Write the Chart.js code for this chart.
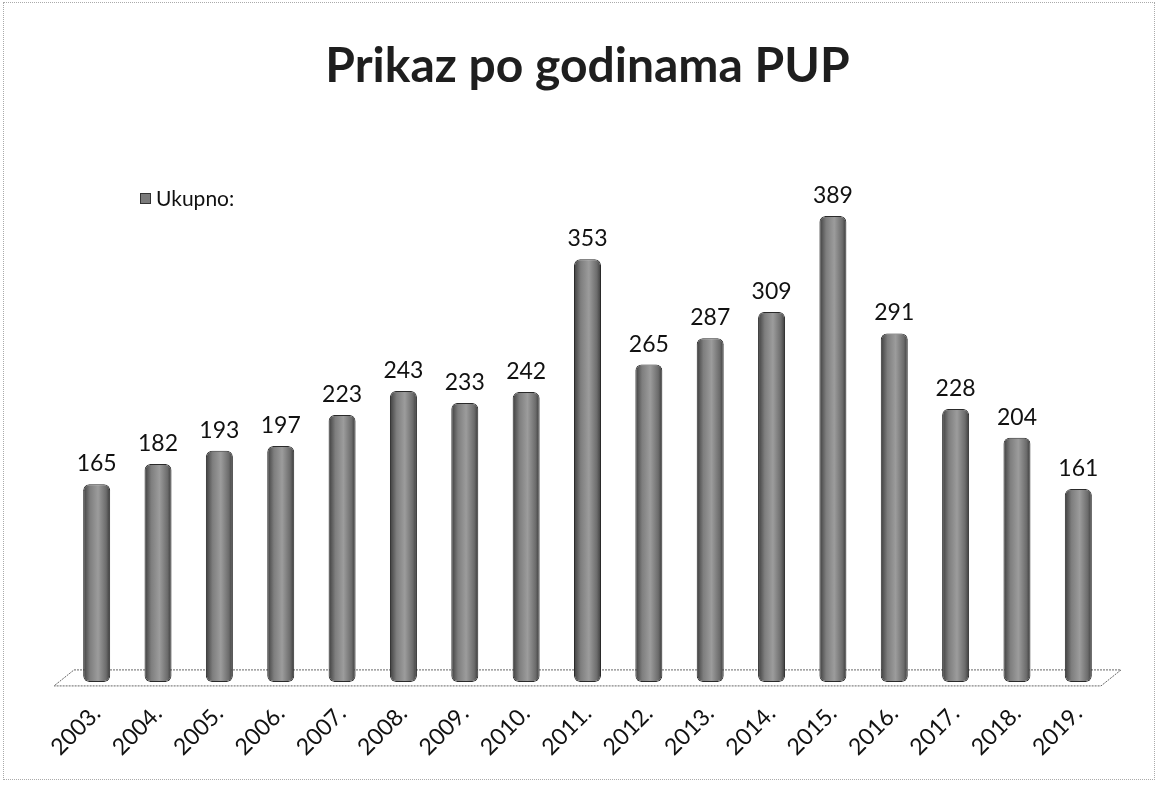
<!DOCTYPE html>
<html>
<head>
<meta charset="utf-8">
<script src="https://cdn.jsdelivr.net/npm/chart.js@4.4.1/dist/chart.umd.min.js"></script>
<style>
  html, body { margin: 0; padding: 0; background: #fff; }
  #wrap { position: relative; width: 1158px; height: 785px; }
  #frame { position: absolute; left: 3px; top: 2px; width: 1150px; height: 776px; border: 1px dotted #aaa; pointer-events: none; }
</style>
</head>
<body>
<div id="wrap">
  <canvas id="grafico" width="1158" height="785"></canvas>
  <div id="frame"></div>
</div>
<script>
// podaci sa grafika
const godine = ['2003.', '2004.', '2005.', '2006.', '2007.', '2008.', '2009.', '2010.', '2011.',
  '2012.', '2013.', '2014.', '2015.', '2016.', '2017.', '2018.', '2019.'];
const ukupno = [165, 182, 193, 197, 223, 243, 233, 242, 353, 265, 287, 309, 389, 291, 228, 204, 161];
const nazivSerije = 'Ukupno:';
const naslov = 'Prikaz po godinama PUP';

const FONT = "Lato, 'Open Sans', sans-serif";
const SIRINA_STUBA = 0.44;

// gradijent da stubovi izgledaju kao valjci
function bojaStuba(ctx) {
  const chart = ctx.chart;
  const xs = chart.scales.x;
  if (!xs || !chart.chartArea) return '#7c7c7c';
  const cx = xs.getPixelForValue(ctx.dataIndex);
  const w = xs.width / godine.length * SIRINA_STUBA;
  if (!isFinite(cx) || !isFinite(w)) return '#7c7c7c';
  const g = chart.ctx.createLinearGradient(cx - w / 2, 0, cx + w / 2, 0);
  g.addColorStop(0, '#3e3e3e');
  g.addColorStop(0.25, '#7e7e7e');
  g.addColorStop(0.55, '#9c9c9c');
  g.addColorStop(0.85, '#6c6c6c');
  g.addColorStop(1, '#3a3a3a');
  return g;
}

// pod (3D podloga ispod stubova)
const podPlugin = {
  id: 'pod',
  beforeDatasetsDraw(chart) {
    const { ctx, chartArea } = chart;
    const b = chartArea.bottom;
    ctx.save();
    ctx.strokeStyle = '#666';
    ctx.lineWidth = 1;
    ctx.setLineDash([2, 1]);
    ctx.beginPath();
    ctx.moveTo(chartArea.left + 8, b - 12);
    ctx.lineTo(chartArea.right + 12, b - 12);
    ctx.lineTo(chartArea.right - 8, b + 4);
    ctx.lineTo(chartArea.left - 12, b + 4);
    ctx.closePath();
    ctx.stroke();
    ctx.restore();
  }
};

// vrijednosti iznad stubova i legenda
const oznakePlugin = {
  id: 'oznake',
  afterDatasetsDraw(chart) {
    const { ctx } = chart;
    const meta = chart.getDatasetMeta(0);
    ctx.save();
    ctx.font = '23px ' + FONT;
    ctx.fillStyle = '#111';
    ctx.textAlign = 'center';
    ctx.textBaseline = 'bottom';
    meta.data.forEach((bar, i) => {
      ctx.fillText(String(ukupno[i]), bar.x, bar.y - 9);
    });

    // legenda
    ctx.fillStyle = '#7a7a7a';
    ctx.strokeStyle = '#333';
    ctx.fillRect(140, 193, 11, 11);
    ctx.strokeRect(140.5, 193.5, 10, 10);
    ctx.fillStyle = '#111';
    ctx.font = '21px ' + FONT;
    ctx.textAlign = 'left';
    ctx.textBaseline = 'middle';
    ctx.fillText(nazivSerije, 156, 199);
    ctx.restore();
  }
};

const ctx = document.getElementById('grafico').getContext('2d');
window.graficoPUP = new Chart(ctx, {
  type: 'bar',
  data: {
    labels: godine,
    datasets: [{
      label: nazivSerije,
      data: ukupno,
      backgroundColor: bojaStuba,
      borderColor: '#2a2a2a',
      borderWidth: 1,
      borderSkipped: false,
      borderRadius: 6,
      barPercentage: SIRINA_STUBA,
      categoryPercentage: 1
    }]
  },
  options: {
    responsive: false,
    animation: false,
    layout: {
      padding: { left: 66, right: 49, top: 0, bottom: 14 }
    },
    plugins: {
      legend: { display: false },
      tooltip: { enabled: false },
      title: {
        display: true,
        text: naslov,
        color: '#1e1e1e',
        font: { family: FONT, size: 48, weight: 'bold' },
        padding: { top: 38, bottom: 69 }
      }
    },
    scales: {
      x: {
        grid: { display: false },
        border: { display: false },
        ticks: {
          color: '#111',
          font: { family: FONT, size: 23 },
          maxRotation: 45,
          minRotation: 45,
          padding: 10
        }
      },
      y: {
        display: false,
        min: 0,
        max: 432
      }
    }
  },
  plugins: [podPlugin, oznakePlugin]
});
</script>
</body>
</html>
